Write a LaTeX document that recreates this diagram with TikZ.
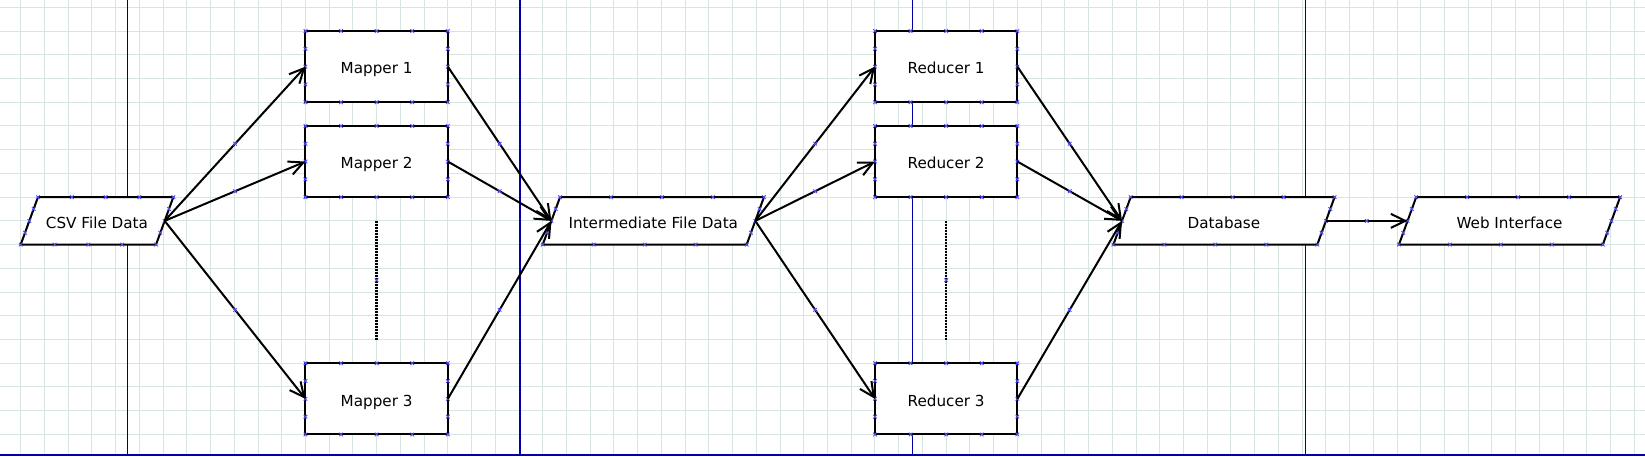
\documentclass[tikz,border=0pt]{standalone}
\usepackage{fontspec}
\setmainfont{DejaVu Sans}
\usetikzlibrary{calc,arrows.meta}
\pgfdeclarelayer{gridlayer}
\pgfdeclarelayer{shapelayer}
\pgfsetlayers{gridlayer,shapelayer,main}
\definecolor{gridc}{RGB}{214,228,226}
\definecolor{pagec}{RGB}{0,0,170}
\definecolor{pagedark}{RGB}{0,0,110}
\definecolor{mkc}{RGB}{80,80,250}
\tikzset{
  gridline/.style={draw=gridc, line width=0.5pt},
  pageline/.style={draw=pagec, line width=0.6pt},
  lbl/.style={font=\fontsize{7.6}{9}\selectfont, text height=0.73em, text depth=0pt},
  box/.style={lbl, draw, fill=white, line width=1pt, inner sep=0pt, outer sep=0pt,
    minimum width=71.19pt, minimum height=35.6pt},
  paratext/.style={lbl, inner sep=0pt, outer sep=0pt, minimum height=23.73pt},
  shapeline/.style={draw, fill=white, line width=1pt, line join=miter},
  arr/.style={line width=1pt, -{Straight Barb[length=7.2pt,width=7pt]}},
  dotline/.style={line width=1.2pt, dash pattern=on 1pt off 0.5pt},
  mk/.style={draw=mkc, line width=0.45pt, solid, -},
}
\newcommand\cpmark[1]{\draw[mk] (#1) +(-1.8,-1.8) -- +(1.8,1.8) +(-1.8,1.8) -- +(1.8,-1.8);}
\newcommand\boxmarks[1]{%
  \foreach \f in {0,0.25,0.5,0.75,1}{%
    \path ($(#1.north west)!\f!(#1.north east)$) coordinate (t1)
          ($(#1.south west)!\f!(#1.south east)$) coordinate (t2);
    \cpmark{t1}\cpmark{t2}}
  \foreach \f in {0.25,0.5,0.75}{%
    \path ($(#1.north west)!\f!(#1.south west)$) coordinate (t1)
          ($(#1.north east)!\f!(#1.south east)$) coordinate (t2);
    \cpmark{t1}\cpmark{t2}}
}
\newcommand\drawpara[1]{%
  \path ($(#1.north west)+(8.635,0)$) coordinate (#1-tl)
        ($(#1.north east)+(8.635,0)$) coordinate (#1-tr)
        ($(#1.south east)+(-8.635,0)$) coordinate (#1-br)
        ($(#1.south west)+(-8.635,0)$) coordinate (#1-bl);
  \begin{pgfonlayer}{shapelayer}
    \draw[shapeline] (#1-tl) -- (#1-tr) -- (#1-br) -- (#1-bl) -- cycle;
  \end{pgfonlayer}
  \foreach \f in {0,0.25,0.5,0.75,1}{%
    \path ($(#1-tl)!\f!(#1-tr)$) coordinate (t1)
          ($(#1-bl)!\f!(#1-br)$) coordinate (t2);
    \cpmark{t1}\cpmark{t2}}
  \foreach \f in {0.25,0.5,0.75}{%
    \path ($(#1-tl)!\f!(#1-bl)$) coordinate (t1)
          ($(#1-tr)!\f!(#1-br)$) coordinate (t2);
    \cpmark{t1}\cpmark{t2}}
}
\begin{document}
\begin{tikzpicture}[x=0.5pt,y=-0.5pt]
\useasboundingbox (0,0) rectangle (1645,456);
\begin{pgfonlayer}{gridlayer}
  \fill[white] (0,0) rectangle (1645,456);
  \foreach \k in {0,...,68} \draw[gridline] ({20.7+23.73*\k},0) -- ({20.7+23.73*\k},456);
  \foreach \k in {0,...,18} \draw[gridline] (0,{7.3+23.73*\k}) -- (1645,{7.3+23.73*\k});
  \draw[pageline, draw=pagedark] (127.3,0) -- (127.3,455);
  \foreach \xx in {520,912.5,1305.5} \draw[pageline] (\xx,0) -- (\xx,455);
  \draw[pageline] (0,455) -- (1645,455);
\end{pgfonlayer}

% parallelogram data nodes
\node[paratext, minimum width=67.67pt] (csv) at (97.0,220.87) {CSV File Data};
\node[paratext, minimum width=101.95pt] (inter) at (653.34,220.87) {Intermediate File Data};
\node[paratext, minimum width=101.95pt] (db) at (1223.98,220.87) {Database};
\node[paratext, minimum width=101.95pt] (web) at (1509.5,220.87) {Web Interface};
\drawpara{csv}\drawpara{inter}\drawpara{db}\drawpara{web}

% process boxes
\node[box] (m1) at (376.65,66.63) {Mapper 1};
\node[box] (m2) at (376.65,161.55) {Mapper 2};
\node[box] (m3) at (376.65,398.85) {Mapper 3};
\node[box] (r1) at (946.17,66.63) {Reducer 1};
\node[box] (r2) at (946.17,161.55) {Reducer 2};
\node[box] (r3) at (946.17,398.85) {Reducer 3};
\boxmarks{m1}\boxmarks{m2}\boxmarks{m3}\boxmarks{r1}\boxmarks{r2}\boxmarks{r3}

% dotted continuation lines
\coordinate (d1a) at (376.65,220.87);
\coordinate (d1b) at (376.65,339.5);
\coordinate (d2a) at (946.17,220.87);
\coordinate (d2b) at (946.17,339.5);
\draw[dotline] (d1a) -- coordinate (e14) (d1b);
\draw[dotline] (d2a) -- coordinate (e15) (d2b);

% connectors
\draw[arr] (csv.east) -- coordinate (e1) (m1.west);
\draw[arr] (csv.east) -- coordinate (e2) (m2.west);
\draw[arr] (csv.east) -- coordinate (e3) (m3.west);
\draw[arr] (m1.east) -- coordinate (e4) (inter.west);
\draw[arr] (m2.east) -- coordinate (e5) (inter.west);
\draw[arr] (m3.east) -- coordinate (e6) (inter.west);
\draw[arr] (inter.east) -- coordinate (e7) (r1.west);
\draw[arr] (inter.east) -- coordinate (e8) (r2.west);
\draw[arr] (inter.east) -- coordinate (e9) (r3.west);
\draw[arr] (r1.east) -- coordinate (e10) (db.west);
\draw[arr] (r2.east) -- coordinate (e11) (db.west);
\draw[arr] (r3.east) -- coordinate (e12) (db.west);
\draw[arr] (db.east) -- coordinate (e13) (web.west);
\foreach \c in {e1,e2,e3,e4,e5,e6,e7,e8,e9,e10,e11,e12,e13,e14,e15} {\cpmark{\c}}
\end{tikzpicture}
\end{document}
